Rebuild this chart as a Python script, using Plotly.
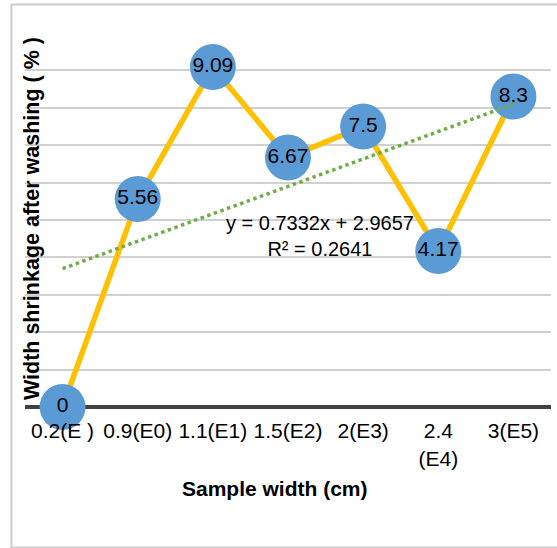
import numpy as np
import plotly.graph_objects as go

# Sample widths (categories) and measured width shrinkage after washing (%)
categories = ["0.2(E )", "0.9(E0)", "1.1(E1)", "1.5(E2)", "2(E3)", "2.4<br>(E4)", "3(E5)"]
shrinkage = [0, 5.56, 9.09, 6.67, 7.5, 4.17, 8.3]
value_labels = ["0", "5.56", "9.09", "6.67", "7.5", "4.17", "8.3"]

FONT = "Liberation Sans, Arial, sans-serif"

# Linear trend over the category index (1..n), as a spreadsheet trendline would
idx = np.arange(1, len(shrinkage) + 1)
y_arr = np.array(shrinkage, dtype=float)
slope, intercept = np.polyfit(idx, y_arr, 1)
fitted = slope * idx + intercept
r2 = 1 - np.sum((y_arr - fitted) ** 2) / np.sum((y_arr - y_arr.mean()) ** 2)

fig = go.Figure()

fig.add_trace(go.Scatter(
    x=categories, y=shrinkage,
    mode="lines+markers+text",
    line=dict(color="#FFC000", width=5.5),
    marker=dict(size=46, color="#5B9BD5", line=dict(width=0)),
    text=value_labels,
    textposition="middle center",
    textfont=dict(family=FONT, size=21, color="#000000"),
    cliponaxis=False,
    showlegend=False,
    hoverinfo="skip",
))

fig.add_trace(go.Scatter(
    x=categories, y=fitted,
    mode="lines",
    line=dict(color="#70AD47", width=3.5, dash="dot"),
    showlegend=False,
    hoverinfo="skip",
))

# Trendline equation and R²
fig.add_annotation(
    x=3.43, y=4.58, xref="x", yref="y",
    text=f"y = {slope:.4f}x + {intercept:.4f}<br>R² = {r2:.4f}",
    showarrow=False, align="center",
    font=dict(family=FONT, size=20, color="#000000"),
)

# Axis titles
fig.add_annotation(
    x=0.0122, y=0.5036, xref="paper", yref="paper",
    text="<b>Width shrinkage after washing ( % )</b>",
    textangle=-90, showarrow=False,
    xanchor="center", yanchor="middle",
    font=dict(family=FONT, size=21.5, color="#000000"),
)
fig.add_annotation(
    x=0.476, y=-0.2176, xref="paper", yref="paper",
    text="<b>Sample width (cm)</b>",
    showarrow=False, xanchor="center", yanchor="middle",
    font=dict(family=FONT, size=21, color="#000000"),
)

# Outer chart border
fig.add_shape(
    type="rect", xref="paper", yref="paper",
    x0=-0.0259, x1=1.02, y0=-0.3754, y1=1.0763,
    line=dict(color="#CCCCCC", width=2), fillcolor="rgba(0,0,0,0)",
    layer="below",
)

fig.update_layout(
    width=557, height=548,
    margin=dict(l=24.6, r=6.3, t=33, b=141.3),
    paper_bgcolor="white", plot_bgcolor="white",
    font=dict(family=FONT, size=21, color="#000000"),
    xaxis=dict(
        type="category", range=[-0.5, len(categories) - 0.5],
        showgrid=False, showline=False, zeroline=False,
        ticks="outside", ticklen=5, tickcolor="rgba(0,0,0,0)",
        tickfont=dict(family=FONT, size=21, color="#000000"),
        fixedrange=True,
    ),
    yaxis=dict(
        range=[0, 10], dtick=1,
        showgrid=True, gridcolor="#D0D0D0", gridwidth=1.5,
        zeroline=True, zerolinecolor="#404040", zerolinewidth=3.5,
        showticklabels=False, showline=False, ticks="",
        fixedrange=True,
    ),
)

fig.write_html("out.html")
